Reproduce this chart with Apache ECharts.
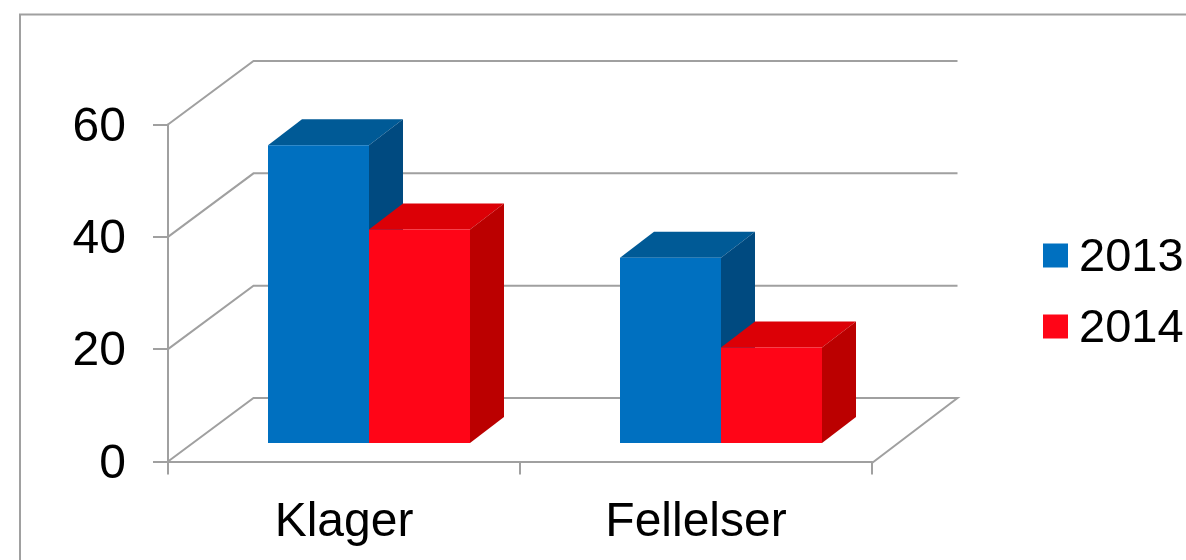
<!DOCTYPE html>
<html>
<head>
<meta charset="utf-8">
<style>
html, body { margin: 0; padding: 0; background: #fff; }
#main { width: 1186px; height: 560px; }
</style>
<script src="https://cdn.jsdelivr.net/npm/echarts@6/dist/echarts.min.js"></script>
</head>
<body>
<div id="main"></div>
<script>
var categories = ['Klager', 'Fellelser'];
var values2013 = [53, 33];
var values2014 = [38, 17];
var gridTicks = [0, 20, 40, 60];

var GRAY = '#a0a0a0';
var FONT = '"Liberation Sans", Arial, sans-serif';
var WALL = [85.5, -63.5];   // offset from front plane to back wall
var FRONT = [25, -18.5];    // offset from front plane to the front face of the bars
var DEPTH = [34, -26];      // depth of one bar
var BAR_W = 101;

function renderWall(params, api) {
    var v = api.value(0);
    var sys = params.coordSys;
    var y = api.coord([0, v])[1];
    var x0 = sys.x, x1 = sys.x + sys.width;
    var pts = [[x0, y], [x0 + WALL[0], y + WALL[1]], [x1 + WALL[0], y + WALL[1]]];
    if (v === 0) pts.push([x1, y + 1.5]);
    return {
        type: 'polyline',
        shape: { points: pts },
        style: { fill: 'none', stroke: GRAY, lineWidth: 2 }
    };
}

function bar3d(side, colors) {
    return function (params, api) {
        var idx = api.value(0);
        var top = api.coord([idx, api.value(1)]);
        var base = api.coord([idx, 0]);
        var x0 = top[0] + FRONT[0] + (side < 0 ? -BAR_W : 0);
        var x1 = x0 + BAR_W;
        var yt = top[1] + FRONT[1];
        var yb = base[1] + FRONT[1];
        var dx = DEPTH[0], dy = DEPTH[1];
        return {
            type: 'group',
            children: [
                { type: 'polygon', shape: { points: [[x0, yt], [x0 + dx, yt + dy], [x1 + dx, yt + dy], [x1, yt]] }, style: { fill: colors[1] } },
                { type: 'polygon', shape: { points: [[x1, yt], [x1 + dx, yt + dy], [x1 + dx, yb + dy], [x1, yb]] }, style: { fill: colors[2] } },
                { type: 'rect', shape: { x: x0, y: yt, width: BAR_W, height: yb - yt }, style: { fill: colors[0] } }
            ]
        };
    };
}

function pairs(values) {
    return values.map(function (v, i) { return [i, v]; });
}

var myChart = echarts.init(document.getElementById('main'), null, { renderer: 'canvas' });

myChart.setOption({
    animation: false,
    backgroundColor: '#fff',
    grid: { left: 168, top: 124.5, width: 704, height: 337 },
    legend: {
        data: ['2013', '2014'],
        left: 1038,
        top: 230,
        orient: 'vertical',
        icon: 'rect',
        itemWidth: 25,
        itemHeight: 24,
        itemGap: 24,
        formatter: '{a|{name}}',
        textStyle: {
            fontFamily: FONT, fontSize: 47, color: '#000',
            rich: { a: { fontFamily: FONT, fontSize: 47, color: '#000', padding: [6, 0, 0, 6] } }
        }
    },
    xAxis: {
        type: 'category',
        data: categories,
        offset: 1,
        axisLine: { show: true, lineStyle: { color: GRAY, width: 2 } },
        axisTick: { show: true, length: 13, lineStyle: { color: GRAY, width: 2 } },
        axisLabel: { fontFamily: FONT, fontSize: 48, color: '#000', margin: 36 }
    },
    yAxis: {
        type: 'value',
        min: 0,
        max: 60,
        interval: 20,
        axisLine: { show: true, lineStyle: { color: GRAY, width: 2 } },
        axisTick: { show: true, length: 15, lineStyle: { color: GRAY, width: 2 } },
        splitLine: { show: false },
        axisLabel: {
            margin: 42,
            formatter: '{a|{value}}',
            rich: { a: { fontFamily: FONT, fontSize: 48, color: '#000', padding: [6, 0, 0, 0] } }
        }
    },
    graphic: [{
        type: 'polyline',
        silent: true,
        shape: { points: [[20, 560], [20, 14.5], [1186, 14.5]] },
        style: { fill: 'none', stroke: GRAY, lineWidth: 2 }
    }],
    series: [
        {
            name: 'walls',
            type: 'custom',
            z: 1,
            silent: true,
            data: gridTicks.map(function (t) { return [t]; }),
            encode: { y: 0 },
            renderItem: renderWall
        },
        {
            name: '2013',
            type: 'custom',
            z: 2,
            itemStyle: { color: '#0070c0' },
            data: pairs(values2013),
            encode: { x: 0, y: 1 },
            renderItem: bar3d(-1, ['#0070c0', '#005a96', '#004a80'])
        },
        {
            name: '2014',
            type: 'custom',
            z: 3,
            itemStyle: { color: '#ff0517' },
            data: pairs(values2014),
            encode: { x: 0, y: 1 },
            renderItem: bar3d(1, ['#ff0517', '#dc0006', '#bb0000'])
        }
    ]
});
</script>
</body>
</html>
